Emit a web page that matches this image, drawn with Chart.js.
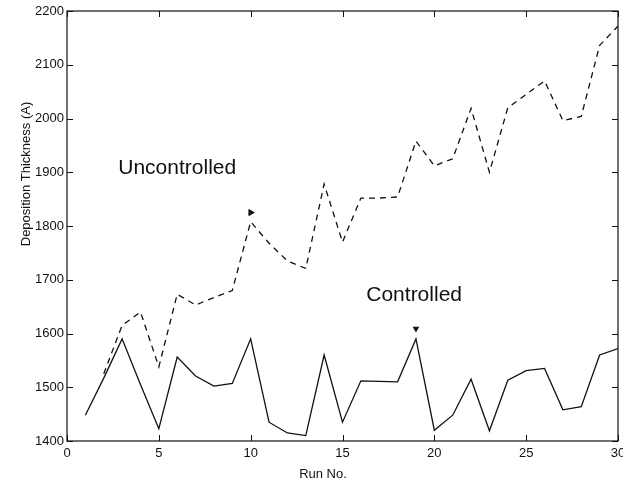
<!DOCTYPE html>
<html>
<head>
<meta charset="utf-8">
<script src="https://cdn.jsdelivr.net/npm/chart.js@4.4.1/dist/chart.umd.min.js"></script>
<style>
  html, body { margin: 0; padding: 0; background: #fff; }
  #wrap { width: 623px; height: 485px; }
</style>
</head>
<body>
<div id="wrap"><canvas id="chart" width="623" height="485"></canvas></div>
<script>
const runs = [1, 2, 3, 4, 5, 6, 7, 8, 9, 10, 11, 12, 13, 14, 15,
              16, 17, 18, 19, 20, 21, 22, 23, 24, 25, 26, 27, 28, 29, 30];

const controlled = [1448, 1517, 1590, 1505, 1423, 1556, 1521, 1502, 1507, 1590,
                    1435, 1415, 1410, 1560, 1435, 1512, 1511, 1510, 1590, 1420,
                    1448, 1515, 1419, 1513, 1531, 1535, 1458, 1464, 1560, 1572];

const uncontrolled = [null, 1525, 1615, 1640, 1538, 1673, 1653, 1667, 1680, 1808,
                      1768, 1735, 1721, 1878, 1770, 1852, 1852, 1854, 1958, 1912,
                      1925, 2019, 1900, 2020, 2045, 2070, 1996, 2004, 2136, 2172];

// small arrow heads drawn on the original figure
const arrowRuns = [10, 19];
const arrowValues = [1825, 1609];

const xTicks = [0, 5, 10, 15, 20, 25, 30];
const yTicks = [1400, 1500, 1600, 1700, 1800, 1900, 2000, 2100, 2200];

const FONT = "'Liberation Sans', Arial, Helvetica, sans-serif";
const INK = "#111";

function toPoints(xs, ys) {
    return xs.map((x, i) => ({ x: x, y: ys[i] }));
}

// box, inward ticks, axis titles and curve labels
const framePlugin = {
    id: "frame",
    afterDraw(chart) {
        const ctx = chart.ctx;
        const a = chart.chartArea;
        const xs = chart.scales.x;
        const ys = chart.scales.y;
        const len = 6;

        ctx.save();
        ctx.strokeStyle = INK;
        ctx.lineWidth = 1.2;
        ctx.strokeRect(a.left, a.top, a.right - a.left, a.bottom - a.top);

        ctx.lineWidth = 1;
        ctx.beginPath();
        xTicks.forEach((t) => {
            const px = Math.round(xs.getPixelForValue(t)) + 0.5;
            ctx.moveTo(px, a.bottom);
            ctx.lineTo(px, a.bottom - len);
            ctx.moveTo(px, a.top);
            ctx.lineTo(px, a.top + len);
        });
        yTicks.forEach((t) => {
            const py = Math.round(ys.getPixelForValue(t)) + 0.5;
            ctx.moveTo(a.left, py);
            ctx.lineTo(a.left + len, py);
            ctx.moveTo(a.right, py);
            ctx.lineTo(a.right - len, py);
        });
        ctx.stroke();

        ctx.fillStyle = INK;
        ctx.textAlign = "center";
        ctx.textBaseline = "middle";

        ctx.font = "13px " + FONT;
        ctx.fillText("Run No.", 323, 474);

        ctx.save();
        ctx.translate(26, 174);
        ctx.rotate(-Math.PI / 2);
        ctx.fillText("Deposition Thickness (A)", 0, 0);
        ctx.restore();

        ctx.font = "21px " + FONT;
        ctx.fillText("Uncontrolled", xs.getPixelForValue(6.0), ys.getPixelForValue(1908));
        ctx.fillText("Controlled", xs.getPixelForValue(18.9), ys.getPixelForValue(1672));
        ctx.restore();
    }
};

new Chart(document.getElementById("chart").getContext("2d"), {
    type: "line",
    data: {
        datasets: [
            {
                label: "Controlled",
                data: toPoints(runs, controlled),
                borderColor: INK,
                borderWidth: 1.3,
                pointRadius: 0,
                tension: 0,
                fill: false,
            },
            {
                label: "Uncontrolled",
                data: toPoints(runs, uncontrolled),
                borderColor: INK,
                borderWidth: 1.3,
                borderDash: [6, 5],
                pointRadius: 0,
                tension: 0,
                spanGaps: false,
                fill: false,
            },
            {
                label: "arrow 1",
                type: "scatter",
                data: toPoints(arrowRuns.slice(0, 1), arrowValues.slice(0, 1)),
                pointStyle: "triangle",
                pointRotation: -30,
                pointRadius: 3.5,
                backgroundColor: INK,
                borderColor: INK,
                borderWidth: 1,
            },
            {
                label: "arrow 2",
                type: "scatter",
                data: toPoints(arrowRuns.slice(1), arrowValues.slice(1)),
                pointStyle: "triangle",
                pointRotation: 180,
                pointRadius: 3,
                backgroundColor: INK,
                borderColor: INK,
                borderWidth: 1,
            },
        ],
    },
    options: {
        responsive: false,
        animation: false,
        layout: { padding: { top: 11, right: 3, left: 0, bottom: 0 } },
        plugins: {
            legend: { display: false },
            tooltip: { enabled: false },
        },
        scales: {
            x: {
                type: "linear",
                min: 0,
                max: 30,
                afterBuildTicks: (scale) => {
                    scale.ticks = xTicks.map((v) => ({ value: v }));
                },
                afterFit: (scale) => {
                    scale.height = 44;
                    scale.paddingRight = 0;
                    scale.paddingLeft = 0;
                },
                grid: { display: false, drawTicks: false },
                border: { display: false },
                ticks: {
                    color: INK,
                    font: { family: FONT, size: 13 },
                    padding: 5,
                    maxRotation: 0,
                    callback: (v) => String(v),
                },
            },
            y: {
                type: "linear",
                min: 1400,
                max: 2200,
                afterBuildTicks: (scale) => {
                    scale.ticks = yTicks.map((v) => ({ value: v }));
                },
                afterFit: (scale) => { scale.width = 67; },
                grid: { display: false, drawTicks: false },
                border: { display: false },
                ticks: {
                    color: INK,
                    font: { family: FONT, size: 13 },
                    padding: 3,
                    callback: (v) => String(v),
                },
            },
        },
    },
    plugins: [framePlugin],
});
</script>
</body>
</html>
